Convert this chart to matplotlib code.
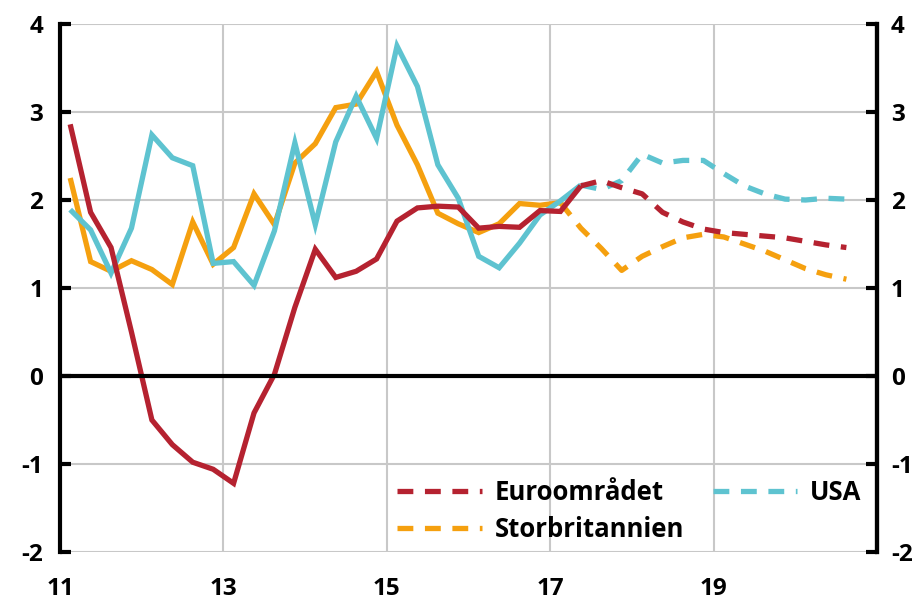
import numpy as np
import matplotlib.pyplot as plt

# ==== data (quarterly, 2011Q1 - 2020Q3) ====
euro = [2.86, 1.86, 1.46, 0.50, -0.50, -0.78, -0.98, -1.06, -1.22, -0.42,
        0.02, 0.78, 1.44, 1.12, 1.19, 1.33, 1.76, 1.91, 1.93, 1.92,
        1.68, 1.70, 1.69, 1.88, 1.87, 2.16, 2.22, 2.14, 2.07, 1.86,
        1.75, 1.67, 1.63, 1.61, 1.59, 1.57, 1.53, 1.49, 1.46]
uk = [2.25, 1.30, 1.19, 1.31, 1.21, 1.04, 1.75, 1.27, 1.46, 2.07,
      1.72, 2.42, 2.64, 3.05, 3.09, 3.46, 2.85, 2.40, 1.85, 1.73,
      1.63, 1.73, 1.96, 1.94, 1.97, 1.68, 1.45, 1.20, 1.36, 1.47,
      1.57, 1.61, 1.58, 1.50, 1.42, 1.32, 1.22, 1.15, 1.10]
usa = [1.89, 1.66, 1.17, 1.68, 2.74, 2.48, 2.39, 1.28, 1.30, 1.03,
       1.65, 2.65, 1.72, 2.66, 3.18, 2.70, 3.75, 3.29, 2.40, 2.02,
       1.36, 1.23, 1.51, 1.83, 1.99, 2.17, 2.12, 2.22, 2.52, 2.42,
       2.45, 2.45, 2.30, 2.16, 2.07, 2.01, 2.00, 2.02, 2.01]
# index of last outcome quarter (forecast dashed from there)
last_euro = 25
last_uk = 24
last_usa = 25

x_ticks = [11, 13, 15, 17, 19]
x_labels = ["11", "13", "15", "17", "19"]
y_ticks = [-2, -1, 0, 1, 2, 3, 4]

RED = "#B52230"
ORANGE = "#F5A00F"
CYAN = "#5EC3D0"

plt.rcParams["font.family"] = ["Open Sans", "DejaVu Sans"]
plt.rcParams["font.weight"] = "bold"

n = len(euro)
x = 11 + (np.arange(n) + 0.5) / 4

fig = plt.figure(figsize=(9.17, 6.02), dpi=100)
ax = fig.add_axes([0.0654, 0.0831, 0.891, 0.877])

lw = 3.8
dash = (3, 2.2)
series = [(uk, last_uk, ORANGE, "Storbritannien", 2),
          (usa, last_usa, CYAN, "USA", 3),
          (euro, last_euro, RED, "Euroområdet", 4)]
handles = {}
for vals, k, col, lab, z in series:
    vals = np.array(vals)
    ax.plot(x[:k + 1], vals[:k + 1], color=col, lw=lw, zorder=z,
            solid_joinstyle="miter", solid_capstyle="butt")
    h, = ax.plot(x[k:], vals[k:], color=col, lw=lw, zorder=z,
                 dashes=dash, label=lab)
    handles[lab] = h

ax.set_xlim(11, 21)
ax.set_ylim(-2, 4)
ax.axhline(0, color="black", lw=3, zorder=5)

for yv in y_ticks:
    if yv != 0:
        ax.axhline(yv, color="#C8C8C8", lw=1.5, zorder=1)
for xv in x_ticks[1:]:
    ax.axvline(xv, color="#C8C8C8", lw=1.5, zorder=1)

for s in ["top", "bottom"]:
    ax.spines[s].set_visible(False)
for s in ["left", "right"]:
    ax.spines[s].set_linewidth(3)

ax.set_yticks(y_ticks)
ax.set_yticklabels([str(v) for v in y_ticks])
ax.tick_params(axis="y", direction="in", length=8, width=3, labelsize=17.5,
               pad=12)
ax.set_xticks(x_ticks)
ax.set_xticklabels(x_labels)
ax.tick_params(axis="x", length=0, labelsize=17.5, pad=18)

ax2 = ax.twinx()
ax2.set_ylim(-2, 4)
ax2.set_yticks(y_ticks)
ax2.set_yticklabels([str(v) for v in y_ticks])
ax2.tick_params(axis="y", direction="in", length=8, width=3, labelsize=17.5,
                pad=10)
for s in ["top", "bottom", "left"]:
    ax2.spines[s].set_visible(False)
ax2.spines["right"].set_linewidth(3)

leg = ax.legend([handles["Euroområdet"], handles["Storbritannien"], handles["USA"]],
                ["Euroområdet", "Storbritannien", "USA"],
                ncol=2, frameon=False, fontsize=18.5, loc="lower right",
                bbox_to_anchor=(1.0, -0.012), handlelength=3.3, handletextpad=0.5,
                columnspacing=1.1, labelspacing=0.4, borderaxespad=0.2)

fig.savefig("out.png", dpi=100)
